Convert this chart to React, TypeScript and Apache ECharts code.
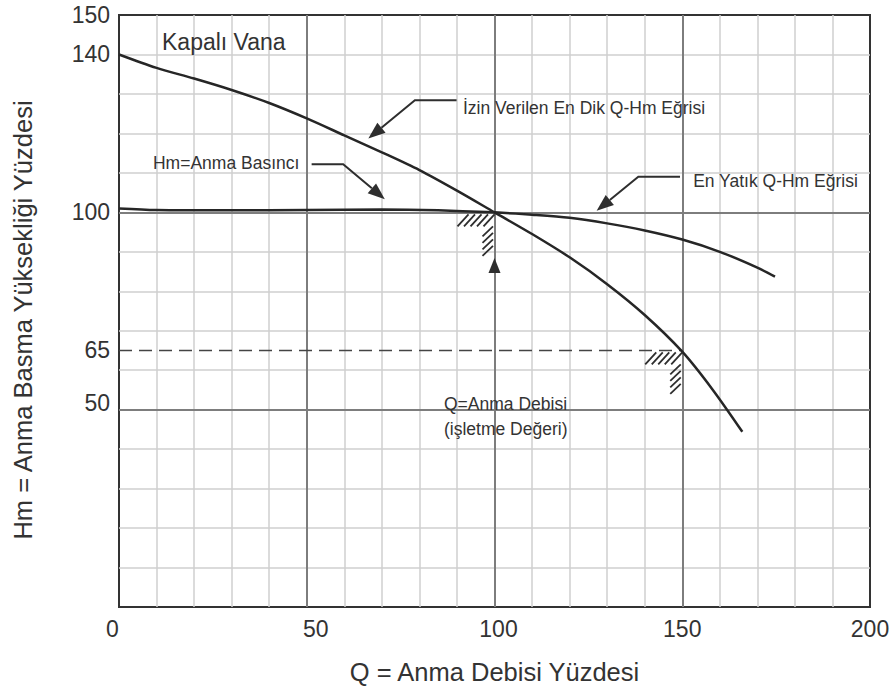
import React, { useEffect, useRef } from "react";
import * as echarts from "echarts";

const FONT = "'Liberation Sans', Arial, Helvetica, sans-serif";
const TEXT = "#333333";
const CURVE = "#262626";

// Tick labels
const xTickLabels = [0, 50, 100, 150, 200];
const yTickLabels = [50, 65, 100, 140, 150];

// Allowed steepest Q-Hm curve
const steepCurve: [number, number][] = [
  [0, 140], [10, 136.6], [20, 133.9], [30, 131], [40, 127.7], [50, 123.8],
  [60, 119.5], [70, 115.2], [80, 110.7], [90, 105.5], [100, 100],
  [110, 94.5], [120, 88.6], [130, 81.8], [140, 74], [150, 64.7],
  [158, 55.2], [166, 44.4],
];

// Hm = nominal head (flat line)
const flatCurve: [number, number][] = [
  [0, 101], [10, 100.6], [30, 100.5], [50, 100.6], [70, 100.7], [85, 100.5], [100, 100],
];

// Flattest Q-Hm curve
const shallowCurve: [number, number][] = [
  [100, 100], [110, 99.4], [120, 98.6], [130, 97.2], [140, 95.4],
  [150, 93.1], [160, 90], [170, 86], [174.7, 83.7],
];

// Dashed 65 % level
const dashedLevel: [number, number][] = [[0, 65], [150, 65]];

// Tolerance hatch points
const hatchPoints: [number, number][] = [[100, 100], [150, 65]];

// Annotation arrows (data coordinates: start, elbow, tip)
const arrowPaths: [number, number][][] = [
  [[89.9, 128.4], [78.8, 128.4], [66.4, 118.7]],
  [[51.3, 112.2], [59.7, 112.2], [70.8, 103.3]],
  [[149.4, 109], [138.3, 109], [127.2, 100.4]],
];
const upArrowTips: [number, number][] = [[100, 88.4]];

// Annotation texts
const noteTexts = ["Kapalı Vana", "İzin Verilen En Dik Q-Hm Eğrisi", "Hm=Anma Basıncı", "En Yatık Q-Hm Eğrisi", "Q=Anma Debisi", "(işletme Değeri)"];
const notePositions: [number, number][] = [[11.45, 143.2], [91.6, 126.4], [9.05, 112.6], [152.9, 107.9], [86.55, 51.4], [86.55, 45.1]];
const noteSizes = [23, 17.5, 17.5, 17.5, 17.5, 17.5];

const xTitle = "Q = Anma Debisi Yüzdesi";
const yTitle = "Hm = Anma Basma Yüksekliği Yüzdesi";

function head(tip: number[], from: number[], len: number, half: number) {
  const dx = tip[0] - from[0];
  const dy = tip[1] - from[1];
  const d = Math.sqrt(dx * dx + dy * dy) || 1;
  const ux = dx / d, uy = dy / d;
  const bx = tip[0] - ux * len, by = tip[1] - uy * len;
  const nx = -uy, ny = ux;
  return {
    base: [bx, by],
    tri: [tip, [bx + nx * half, by + ny * half], [bx - nx * half, by - ny * half]],
  };
}

export default function App() {
  const ref = useRef<HTMLDivElement>(null);
  useEffect(() => {
    if (!ref.current) return;
    const chart = echarts.init(ref.current, null, { renderer: "svg" });
    const labelBase = { fontSize: 23, fontFamily: FONT, color: TEXT };
    const option: any = {
      animation: false,
      backgroundColor: "#ffffff",
      grid: {
        left: 119, right: 23, top: 15, bottom: 83,
        show: true, borderColor: "#333333", borderWidth: 2, backgroundColor: "transparent",
        outerBoundsMode: "none",
      },
      xAxis: [
        {
          type: "value", min: 0, max: 200, interval: 10, z: 0,
          axisLine: { show: false }, axisTick: { show: false }, axisLabel: { show: false },
          splitLine: { show: true, showMinLine: false, showMaxLine: false, lineStyle: { color: "#cfcfcf", width: 1.5 } },
        },
        {
          type: "value", min: 0, max: 200, interval: 50, position: "bottom", z: 1,
          axisLine: { show: false }, axisTick: { show: false },
          axisLabel: {
            show: true, margin: 10, ...labelBase,
            formatter: (v: number) => {
              if (!xTickLabels.includes(v)) return "";
              if (v === 0) return `{l|${v}}`;
              if (v === 50) return `{r|${v}}`;
              if (v === 100) return `{r2|${v}}`;
              return `${v}`;
            },
            rich: {
              l: { ...labelBase, padding: [0, 13, 0, 0] },
              r: { ...labelBase, padding: [0, 0, 0, 18] },
              r2: { ...labelBase, padding: [0, 0, 0, 8] },
            },
          },
          splitLine: { show: true, showMinLine: false, showMaxLine: false, lineStyle: { color: "#7d7d7d", width: 2 } },
        },
      ],
      yAxis: [
        {
          type: "value", min: 0, max: 150, interval: 10, z: 0,
          axisLine: { show: false }, axisTick: { show: false }, axisLabel: { show: false },
          splitLine: { show: true, showMinLine: false, showMaxLine: false, lineStyle: { color: "#cfcfcf", width: 1.5 } },
        },
        {
          type: "value", min: 0, max: 150, interval: 50, z: 1,
          axisLine: { show: false }, axisTick: { show: false }, axisLabel: { show: false },
          splitLine: { show: true, showMinLine: false, showMaxLine: false, lineStyle: { color: "#7d7d7d", width: 2 } },
        },
        {
          type: "value", min: 0, max: 150, interval: 5, position: "left",
          axisLine: { show: false }, axisTick: { show: false }, splitLine: { show: false },
          axisLabel: {
            show: true, margin: 9, ...labelBase,
            formatter: (v: number) => {
              if (!yTickLabels.includes(v)) return "";
              if (v === 50) return `{u|${v}}`;
              return `${v}`;
            },
            rich: { u: { ...labelBase, padding: [0, 0, 14, 0] } },
          },
        },
      ],
      graphic: [
        {
          type: "text", x: 494.5, y: 672,
          style: { text: xTitle, fontSize: 25.5, fontFamily: FONT, fill: TEXT, align: "center", verticalAlign: "middle" },
        },
        {
          type: "text", x: 23, y: 320, rotation: Math.PI / 2,
          style: { text: yTitle, fontSize: 25.5, fontFamily: FONT, fill: TEXT, align: "center", verticalAlign: "middle" },
        },
      ],
      series: [
        {
          type: "line", data: dashedLevel, showSymbol: false, z: 2,
          lineStyle: { color: "#444444", width: 1.5, type: [13, 7] },
        },
        {
          type: "line", data: steepCurve, showSymbol: false, smooth: 0.3, z: 3,
          lineStyle: { color: CURVE, width: 2.5 },
        },
        {
          type: "line", data: flatCurve, showSymbol: false, smooth: 0.3, z: 3,
          lineStyle: { color: CURVE, width: 2.5 },
        },
        {
          type: "line", data: shallowCurve, showSymbol: false, smooth: 0.3, z: 3,
          lineStyle: { color: CURVE, width: 2.5 },
        },
        {
          type: "custom", data: hatchPoints, z: 4,
          renderItem: (params: any, api: any) => {
            const c = api.coord([api.value(0), api.value(1)]);
            const cx = c[0], cy = c[1];
            const children: any[] = [];
            for (let i = 0; i < 5; i++) {
              const bx = cx - 37 + 6.5 * i;
              children.push({ type: "line", shape: { x1: bx, y1: cy + 14, x2: bx + 11, y2: cy + 2 }, style: { stroke: "#2e2e2e", lineWidth: 1.8 } });
            }
            for (let j = 0; j < 4; j++) {
              const ty = cy + 14 + 6.5 * j;
              children.push({ type: "line", shape: { x1: cx - 12, y1: ty + 10, x2: cx - 1.5, y2: ty }, style: { stroke: "#2e2e2e", lineWidth: 1.8 } });
            }
            return { type: "group", children };
          },
        },
        {
          type: "custom", data: arrowPaths.map((p) => p[p.length - 1]), z: 4,
          renderItem: (params: any, api: any) => {
            const pts = arrowPaths[params.dataIndex].map((p) => api.coord(p));
            const tip = pts[pts.length - 1];
            const h = head(tip, pts[pts.length - 2], 17, 6.5);
            const linePts = pts.slice(0, pts.length - 1).concat([h.base]);
            return {
              type: "group",
              children: [
                { type: "polyline", shape: { points: linePts }, style: { stroke: "#2e2e2e", lineWidth: 2, fill: null } },
                { type: "polygon", shape: { points: h.tri }, style: { fill: "#2e2e2e" } },
              ],
            };
          },
        },
        {
          type: "custom", data: upArrowTips, z: 4,
          renderItem: (params: any, api: any) => {
            const tip = api.coord([api.value(0), api.value(1)]);
            const h = head(tip, [tip[0], tip[1] + 30], 15, 6);
            return { type: "polygon", shape: { points: h.tri }, style: { fill: "#2e2e2e" } };
          },
        },
        {
          type: "custom", data: notePositions, z: 5,
          renderItem: (params: any, api: any) => {
            const c = api.coord([api.value(0), api.value(1)]);
            return {
              type: "text", x: c[0], y: c[1],
              style: {
                text: noteTexts[params.dataIndex], fontSize: noteSizes[params.dataIndex], fontFamily: FONT,
                fill: TEXT, align: "left", verticalAlign: "middle",
              },
            };
          },
        },
      ],
    };
    chart.setOption(option);
    return () => chart.dispose();
  }, []);
  return (
    <div
      ref={ref}
      style={{ position: "fixed", left: 0, top: 0, width: 893, height: 690, background: "#fff" }}
    />
  );
}
